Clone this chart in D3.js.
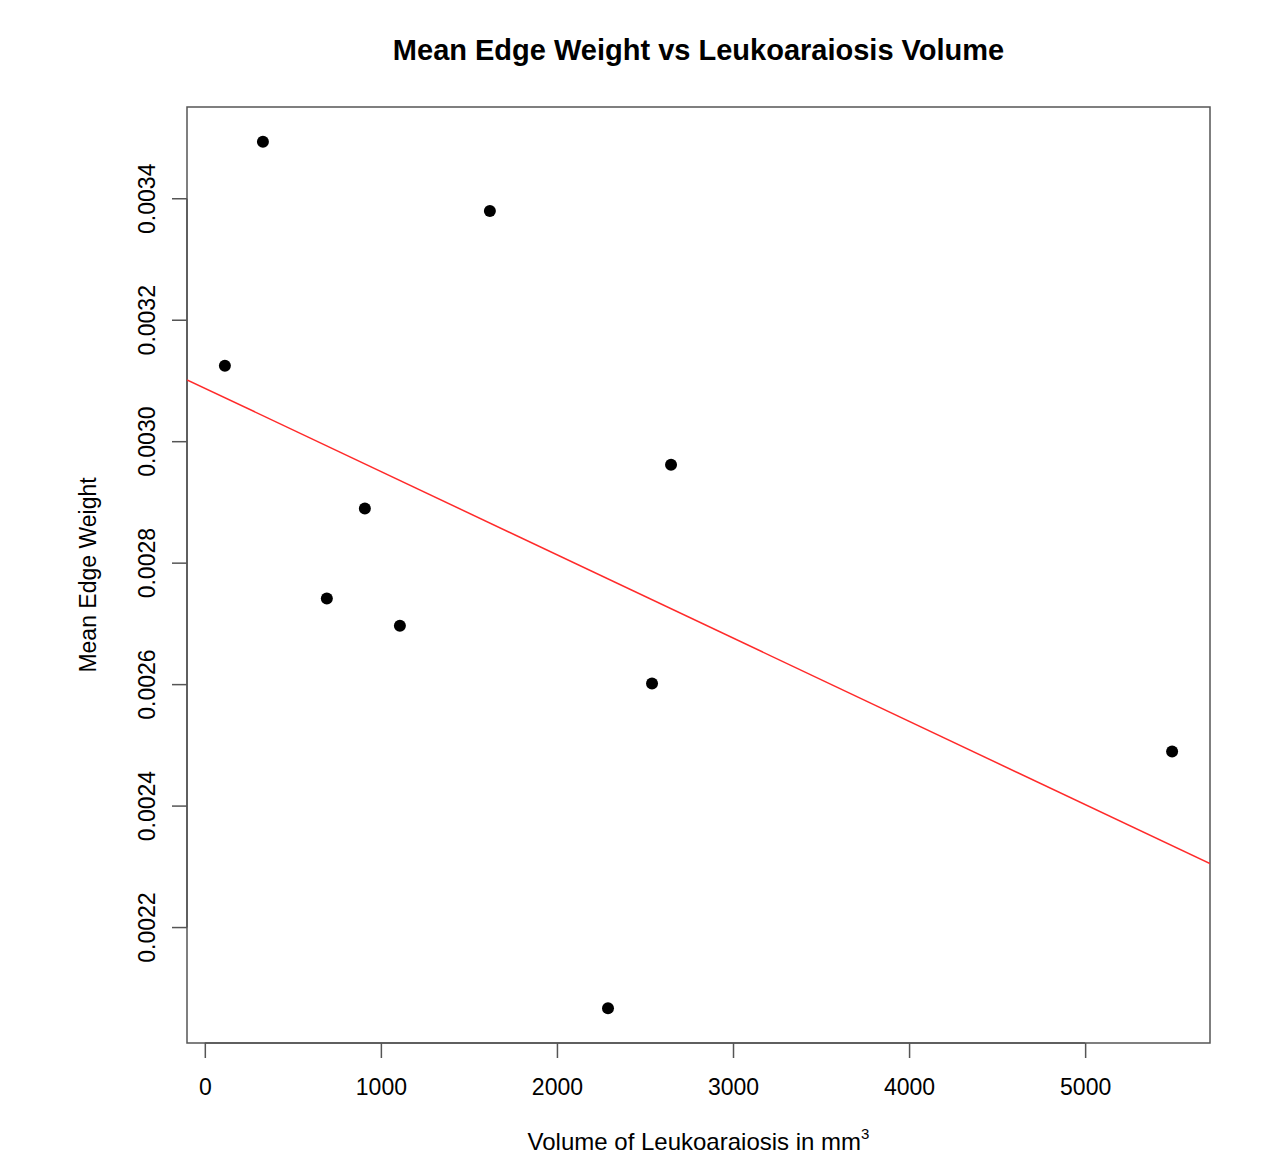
<!DOCTYPE html>
<html>
<head>
<meta charset="utf-8">
<script src="https://cdn.jsdelivr.net/npm/d3@7"></script>
<style>
  body { margin: 0; background: #fff; }
  text { font-family: "Liberation Sans", Arial, sans-serif; fill: #000; }
</style>
</head>
<body>
<svg></svg>
<script>
// data
let volume = [114, 330, 1619, 693, 909, 1108, 2290, 2540, 2648, 5494]
let edgeWeight = [0.003125, 0.003494, 0.003380, 0.002742, 0.002890, 0.002697, 0.002067, 0.002602, 0.002962, 0.002490]
let xTicks = [0, 1000, 2000, 3000, 4000, 5000]
let yTicks = [0.0022, 0.0024, 0.0026, 0.0028, 0.0030, 0.0032, 0.0034]
// fitted line (intercept, slope)
let fitLine = [0.003088, -1.371e-7]

let width = 1268
let height = 1156
let plotLeft = 187, plotRight = 1210, plotTop = 107, plotBottom = 1043

let svg = d3.select("svg").attr("width", width).attr("height", height)

// R style 4% padding on the data range
let pad = (ext) => {
    let d = (ext[1] - ext[0]) * 0.04
    return [ext[0] - d, ext[1] + d]
}

let xScale = d3.scaleLinear().domain(pad(d3.extent(volume))).range([plotLeft, plotRight])
let yScale = d3.scaleLinear().domain(pad(d3.extent(edgeWeight))).range([plotBottom, plotTop])

let xAxis = d3.axisBottom(xScale).tickValues(xTicks).tickSize(15).tickPadding(21).tickFormat(d3.format("d"))
let yAxis = d3.axisLeft(yScale).tickValues(yTicks).tickSize(15).tickPadding(12).tickFormat(d3.format(".4f"))

let gx = svg.append("g")
    .attr("transform", "translate(0," + plotBottom + ")")
    .call(xAxis)
gx.select(".domain").attr("d", "M" + xScale(xTicks[0]) + ",0H" + xScale(xTicks[xTicks.length - 1]))
gx.selectAll("path, line").attr("stroke", "#555").attr("stroke-width", 1.5)
gx.selectAll("text").attr("font-size", 23).attr("fill", "#000")

let gy = svg.append("g")
    .attr("transform", "translate(" + plotLeft + ",0)")
    .call(yAxis)
gy.select(".domain").attr("d", "M0," + yScale(yTicks[0]) + "V" + yScale(yTicks[yTicks.length - 1]))
gy.selectAll("path, line").attr("stroke", "#555").attr("stroke-width", 1.5)
gy.selectAll(".tick").attr("transform", null)
gy.selectAll(".tick line").attr("y1", (d) => yScale(d)).attr("y2", (d) => yScale(d))
gy.selectAll(".tick text")
    .attr("font-size", 23)
    .attr("fill", "#000")
    .attr("text-anchor", "middle")
    .attr("dy", null)
    .attr("x", -40)
    .attr("y", (d) => yScale(d))
    .attr("dominant-baseline", "central")
    .attr("transform", (d) => "rotate(-90," + (-40) + "," + yScale(d) + ")")

// plot box
svg.append("rect")
    .attr("x", plotLeft).attr("y", plotTop)
    .attr("width", plotRight - plotLeft).attr("height", plotBottom - plotTop)
    .attr("fill", "none").attr("stroke", "#555").attr("stroke-width", 1.5)

// regression line clipped to the box
svg.append("clipPath").attr("id", "clip")
    .append("rect").attr("x", plotLeft).attr("y", plotTop).attr("width", plotRight - plotLeft).attr("height", plotBottom - plotTop)

let xd = xScale.domain()
svg.append("line")
    .attr("clip-path", "url(#clip)")
    .attr("x1", xScale(xd[0])).attr("y1", yScale(fitLine[0] + fitLine[1] * xd[0]))
    .attr("x2", xScale(xd[1])).attr("y2", yScale(fitLine[0] + fitLine[1] * xd[1]))
    .attr("stroke", "#ff2a2a").attr("stroke-width", 1.5)

svg.selectAll("circle")
    .data(volume)
    .enter()
    .append("circle")
    .attr("cx", (d) => xScale(d))
    .attr("cy", (d, i) => yScale(edgeWeight[i]))
    .attr("r", 6)
    .attr("fill", "#000")

// titles
svg.append("text")
    .attr("x", (plotLeft + plotRight) / 2).attr("y", 60)
    .attr("text-anchor", "middle")
    .attr("font-size", 29).attr("font-weight", "bold")
    .text("Mean Edge Weight vs Leukoaraiosis Volume")

let xt = svg.append("text")
    .attr("x", (plotLeft + plotRight) / 2).attr("y", 1150)
    .attr("text-anchor", "middle")
    .attr("font-size", 24)
xt.append("tspan").text("Volume of Leukoaraiosis in mm")
xt.append("tspan").attr("font-size", 15).attr("dy", -11).text("3")

svg.append("text")
    .attr("transform", "translate(96," + (plotTop + plotBottom) / 2 + ") rotate(-90)")
    .attr("text-anchor", "middle")
    .attr("font-size", 23)
    .text("Mean Edge Weight")
</script>
</body>
</html>
